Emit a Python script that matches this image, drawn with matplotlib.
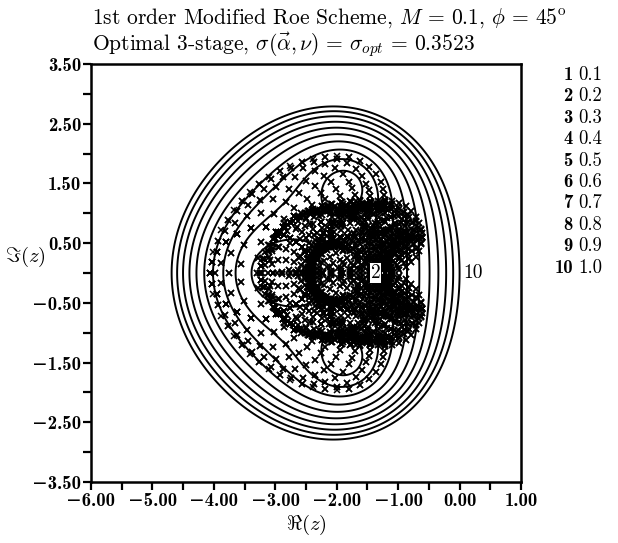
import numpy as np
import matplotlib
matplotlib.use("Agg")
import matplotlib.pyplot as plt
from matplotlib.ticker import FixedLocator, FuncFormatter

# ---------------------------------------------------------------- data
mach = 0.1                          # free-stream Mach number
flow_angle_deg = 45.0               # flow angle phi relative to the grid
precond_eps = 1.0                   # pressure-row scaling  eps = k * M^2
stage_alpha = [0.1481, 0.4, 1.0]    # multistage coefficients alpha_1..alpha_3
footprint_reach = 4.06              # nu * spectral reach along the real axis
n_modes = 16                        # Fourier angle step = pi / n_modes
contour_levels = [0.1, 0.2, 0.3, 0.4, 0.5, 0.6, 0.7, 0.8, 0.9, 1.0]
contour_ids = [1, 2, 3, 4, 5, 6, 7, 8, 9, 10]
labelled_ids = [2, 10]
x_major = [-6.0, -5.0, -4.0, -3.0, -2.0, -1.0, 0.0, 1.0]
y_major = [3.5, 2.5, 1.5, 0.5, -0.5, -1.5, -2.5, -3.5]
title_1 = r"1st order Modified Roe Scheme, $M\,=\,0.1$, $\phi\,=\,45^{\mathrm{o}}$"
title_2 = r"Optimal 3-stage, $\sigma(\vec{\alpha},\nu)\,=\,\sigma_{opt}\,=\,0.3523$"


def amplification(z, alpha):
    a1, a2, a3 = alpha
    return 1.0 + a3 * z * (1.0 + a2 * z * (1.0 + a1 * z))


def roe_footprint(m, angle_deg, k, reach, n):
    """High-frequency Fourier footprint of the preconditioned 1st-order Roe scheme."""
    phi = np.deg2rad(angle_deg)
    u, v = m * np.cos(phi), m * np.sin(phi)
    prec = np.diag([k * m ** 2, 1.0, 1.0, 1.0])
    jac_a = np.array([[u, 1, 0, 0], [1, u, 0, 0], [0, 0, u, 0], [0, 0, 0, u]], float)
    jac_b = np.array([[v, 0, 1, 0], [0, v, 0, 0], [1, 0, v, 0], [0, 0, 0, v]], float)
    half = np.sqrt(prec)
    half_inv = np.diag(1.0 / np.sqrt(np.diag(prec)))

    def abs_prec(jac):
        lam, qq = np.linalg.eigh(half @ jac @ half)
        return half @ qq @ np.diag(np.abs(lam)) @ qq.T @ half_inv

    pa, pb = prec @ jac_a, prec @ jac_b
    apa, apb = abs_prec(jac_a), abs_prec(jac_b)
    th = np.arange(-n, n + 1) * np.pi / n
    tx, ty = np.meshgrid(th, th)
    high = np.maximum(np.abs(tx), np.abs(ty)) >= np.pi / 2 - 1e-9
    tx, ty = tx[high][:, None, None], ty[high][:, None, None]
    sym = -(1j * np.sin(tx) * pa + (1 - np.cos(tx)) * apa
            + 1j * np.sin(ty) * pb + (1 - np.cos(ty)) * apb)
    lam = np.linalg.eigvals(sym).ravel()
    return lam * reach / np.abs(lam.real).max()


# ---------------------------------------------------------------- figure
plt.rcParams["mathtext.fontset"] = "cm"
plt.rcParams["font.family"] = ["cmr10", "DejaVu Serif"]
plt.rcParams["axes.unicode_minus"] = True
bold_family = ["cmb10", "DejaVu Sans"]

fig = plt.figure(figsize=(6.18, 5.43), dpi=100)
ax = fig.add_axes([91 / 618, 61 / 543, 430 / 618, 418 / 543])

xg = np.linspace(-6.0, 1.0, 700)
yg = np.linspace(-3.5, 3.5, 700)
X, Y = np.meshgrid(xg, yg)
G = np.abs(amplification(X + 1j * Y, stage_alpha))
ax.contour(X, Y, G, levels=contour_levels, colors="black", linewidths=1.4)

zf = roe_footprint(mach, flow_angle_deg, precond_eps, footprint_reach, n_modes)
ax.plot(zf.real, zf.imag, linestyle="none", marker="x", color="black",
        markersize=5, markeredgewidth=1.1)

# contour index written just right of where each labelled level meets the real axis
xs = xg[xg > -2.0]
row = np.abs(amplification(xs + 0j, stage_alpha))
for lev, cid in zip(contour_levels, contour_ids):
    if cid not in labelled_ids:
        continue
    cross = np.where(np.diff(np.sign(row - lev)) != 0)[0]
    xc = xs[cross[-1]]
    ax.text(xc + 0.06, 0.0, str(cid), ha="left", va="center", fontsize=14,
            bbox=dict(facecolor="white", edgecolor="none", pad=0.5))

ax.set_xlim(-6.0, 1.0)
ax.set_ylim(-3.5, 3.5)
ax.xaxis.set_major_locator(FixedLocator(x_major))
ax.xaxis.set_minor_locator(FixedLocator(np.arange(-5.5, 1.0, 1.0)))
ax.yaxis.set_major_locator(FixedLocator(y_major))
ax.yaxis.set_minor_locator(FixedLocator(np.arange(-3.0, 3.5, 1.0)))
fmt = FuncFormatter(lambda val, pos: f"{val:.2f}".replace("-", "\u2212"))
ax.xaxis.set_major_formatter(fmt)
ax.yaxis.set_major_formatter(fmt)
ax.tick_params(which="both", direction="out", length=6, width=1.6,
               top=False, right=False, labelsize=13.5, pad=1)
for lab in ax.get_xticklabels() + ax.get_yticklabels():
    lab.set_family(bold_family)
for sp in ax.spines.values():
    sp.set_linewidth(1.8)

ax.set_xlabel(r"$\Re(z)$", fontsize=15)
ax.xaxis.set_label_coords(0.5, -0.075)
ax.set_ylabel(r"$\Im(z)$", fontsize=15, rotation=0)
ax.yaxis.set_label_coords(-0.152, 0.51)

fig.text(92 / 618, 1 - 24 / 543, title_1, fontsize=15.5, ha="left", va="baseline")
fig.text(92 / 618, 1 - 51 / 543, title_2, fontsize=15.5, ha="left", va="baseline")

# level key to the right of the plot
for i, (cid, lev) in enumerate(zip(contour_ids, contour_levels)):
    yy = 1 - (75 + i * 21.4) / 543
    fig.text(573 / 618, yy, str(cid), ha="right", va="center", fontsize=13.5,
             family=bold_family)
    fig.text(578 / 618, yy, f"{lev:.1f}", ha="left", va="center", fontsize=13.5)

fig.savefig("out.png", dpi=100)
